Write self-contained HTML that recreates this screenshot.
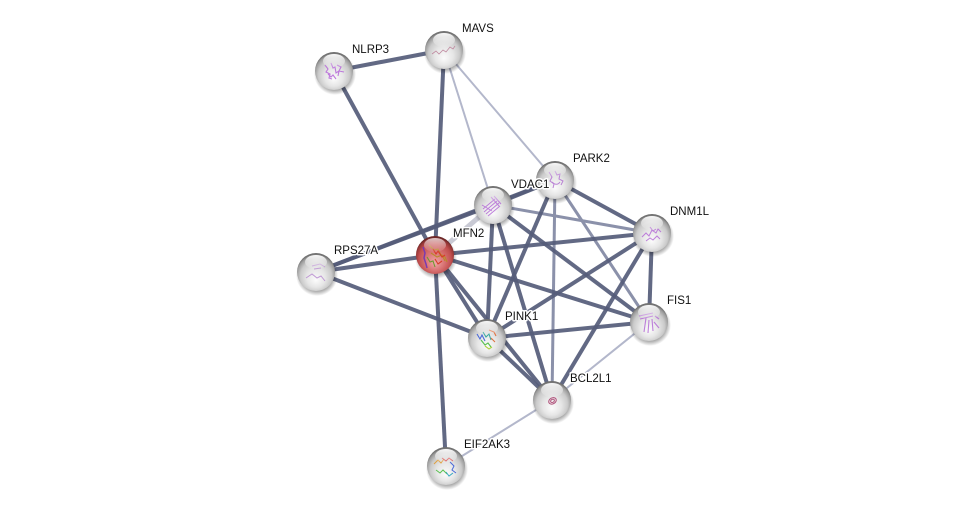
<!DOCTYPE html>
<html>
<head>
<meta charset="utf-8">
<style>
  html,body{margin:0;padding:0;background:#ffffff;}
  svg{display:block;}
  text{font-family:"Liberation Sans",Arial,sans-serif;font-size:11.5px;fill:#111;stroke:#ffffff;stroke-width:3px;paint-order:stroke;stroke-linejoin:round;}
</style>
</head>
<body>
<svg width="975" height="511" viewBox="0 0 975 511" xmlns="http://www.w3.org/2000/svg">
  <defs>
    <radialGradient id="gw" cx="50%" cy="58%" r="55%" fx="50%" fy="72%">
      <stop offset="0" stop-color="#fbfbfb"/>
      <stop offset="0.45" stop-color="#e6e6e6"/>
      <stop offset="0.75" stop-color="#cacaca"/>
      <stop offset="0.92" stop-color="#9d9d9d"/>
      <stop offset="1" stop-color="#707070"/>
    </radialGradient>
    <radialGradient id="gr" cx="50%" cy="58%" r="55%" fx="50%" fy="72%">
      <stop offset="0" stop-color="#eea8a8"/>
      <stop offset="0.45" stop-color="#d97474"/>
      <stop offset="0.78" stop-color="#c24f4f"/>
      <stop offset="0.93" stop-color="#953636"/>
      <stop offset="1" stop-color="#6a2626"/>
    </radialGradient>
    <linearGradient id="gl" x1="0" y1="0" x2="0" y2="1">
      <stop offset="0" stop-color="#ffffff" stop-opacity="0.95"/>
      <stop offset="1" stop-color="#ffffff" stop-opacity="0.05"/>
    </linearGradient>
    <radialGradient id="sh" cx="50%" cy="50%" r="50%">
      <stop offset="0.75" stop-color="#000" stop-opacity="0.35"/>
      <stop offset="1" stop-color="#000" stop-opacity="0"/>
    </radialGradient>
  </defs>

  <!-- edges -->
  <g stroke-linecap="butt" fill="none">
    <g stroke="#b3b7cb" stroke-width="2">
      <line x1="444" y1="50" x2="493" y2="205"/>
      <line x1="444" y1="50" x2="555" y2="180"/>
      <line x1="649" y1="322" x2="552" y2="400"/>
      <line x1="552" y1="400" x2="446" y2="466"/>
    </g>
    <line x1="435" y1="255" x2="493" y2="205" stroke="#c9cad4" stroke-width="5"/>
    <g stroke="#8b91aa" stroke-width="3">
      <line x1="493" y1="205" x2="652" y2="233"/>
      <line x1="555" y1="180" x2="649" y2="322"/>
      <line x1="555" y1="180" x2="552" y2="400"/>
    </g>
    <g stroke="#555c7a" stroke-width="4" stroke-opacity="0.92">
      <line x1="334" y1="71" x2="444" y2="50"/>
      <line x1="334" y1="71" x2="435" y2="255"/>
      <line x1="444" y1="50" x2="435" y2="255"/>
      <line x1="316" y1="272" x2="493" y2="205"/>
      <line x1="316" y1="272" x2="555" y2="180"/>
      <line x1="316" y1="272" x2="435" y2="255"/>
      <line x1="316" y1="272" x2="487" y2="338"/>
      <line x1="435" y1="255" x2="652" y2="233"/>
      <line x1="435" y1="255" x2="649" y2="322"/>
      <line x1="435" y1="255" x2="487" y2="338"/>
      <line x1="435" y1="255" x2="552" y2="400"/>
      <line x1="435" y1="255" x2="446" y2="466"/>
      <line x1="493" y1="205" x2="555" y2="180"/>
      <line x1="493" y1="205" x2="649" y2="322"/>
      <line x1="493" y1="205" x2="487" y2="338"/>
      <line x1="493" y1="205" x2="552" y2="400"/>
      <line x1="555" y1="180" x2="652" y2="233"/>
      <line x1="555" y1="180" x2="487" y2="338"/>
      <line x1="652" y1="233" x2="649" y2="322"/>
      <line x1="652" y1="233" x2="487" y2="338"/>
      <line x1="652" y1="233" x2="552" y2="400"/>
      <line x1="649" y1="322" x2="487" y2="338"/>
      <line x1="487" y1="338" x2="552" y2="400"/>
    </g>
  </g>

  <!-- nodes -->
  <g id="nodes">
    <g transform="translate(334,71)">
      <ellipse cx="1" cy="3" rx="21" ry="21" fill="url(#sh)"/>
      <circle r="19" fill="url(#gw)"/>
      <path d="M-9,-6 l3,4 l-2,3 l4,2 l-1,4 l3,1 M-3,-8 l2,5 l2,-1 l1,6 l3,-2 l-1,5 M3,-6 l4,2 l-2,4 l5,1 M-6,3 l3,3 l2,-2 l3,4" stroke="#b565d8" stroke-width="1.1" fill="none" opacity="0.85"/>
      <ellipse cx="0" cy="-10" rx="11" ry="7" fill="url(#gl)"/>
    </g>
    <g transform="translate(444,50)">
      <ellipse cx="1" cy="3" rx="21" ry="21" fill="url(#sh)"/>
      <circle r="19" fill="url(#gw)"/>
      <path d="M-12,4 l4,-3 l3,3 l4,-4 l3,2 l4,-5 l3,2 l2,-3" stroke="#c08aa0" stroke-width="0.8" fill="none"/>
      <ellipse cx="0" cy="-10" rx="11" ry="7" fill="url(#gl)"/>
    </g>
    <g transform="translate(555,180)">
      <ellipse cx="1" cy="3" rx="21" ry="21" fill="url(#sh)"/>
      <circle r="19" fill="url(#gw)"/>
      <path d="M-6,-8 l3,5 l-2,4 l4,3 l-1,4 M0,-9 l2,4 l3,-1 l-1,5 l4,2 l-2,4 M-3,2 c3,3 6,3 8,0" stroke="#b070d0" stroke-width="1" fill="none" opacity="0.85"/>
      <ellipse cx="0" cy="-10" rx="11" ry="7" fill="url(#gl)"/>
    </g>
    <g transform="translate(493,205)">
      <ellipse cx="1" cy="3" rx="21" ry="21" fill="url(#sh)"/>
      <circle r="19" fill="url(#gw)"/>
      <path d="M-10,4 l12,-10 M-9,7 l13,-11 M-7,9 l13,-11 M-5,11 l12,-10 M-2,-8 l8,9 M1,-9 l7,8 M-11,0 l10,6" stroke="#b46bd6" stroke-width="1" fill="none" opacity="0.85"/>
      <ellipse cx="0" cy="-10" rx="11" ry="7" fill="url(#gl)"/>
    </g>
    <g transform="translate(652,233)">
      <ellipse cx="1" cy="3" rx="21" ry="21" fill="url(#sh)"/>
      <circle r="19" fill="url(#gw)"/>
      <path d="M-10,4 l4,-4 l3,3 l3,-6 l4,3 l2,-4 l3,3 M-6,8 l4,-3 l3,2 l4,-4 l3,3 M-2,-6 l3,4 l3,-2" stroke="#b46bd6" stroke-width="1" fill="none" opacity="0.85"/>
      <ellipse cx="0" cy="-10" rx="11" ry="7" fill="url(#gl)"/>
    </g>
    <g transform="translate(435,255)">
      <ellipse cx="1" cy="3" rx="21" ry="21" fill="url(#sh)"/>
      <circle r="19" fill="url(#gr)"/>
      <path d="M-12,-8 l2,6 l-1,5 l2,6 l1,4" stroke="#7a3ab0" stroke-width="1.5" fill="none"/>
      <path d="M-6,-10 l5,5 l4,-1 l3,6 l4,2 l2,5 M-4,-2 l6,4 l5,-2 l3,6" stroke="#b8892a" stroke-width="1.1" fill="none"/>
      <path d="M-2,-6 l3,5 l2,-3 l4,6 l3,-2 M0,4 l3,5 l4,-3" stroke="#d83a2a" stroke-width="1.1" fill="none"/>
      <path d="M-8,2 l3,5 l3,-1 l2,6" stroke="#6c9a30" stroke-width="1.1" fill="none"/>
      <ellipse cx="0" cy="-10" rx="11" ry="7" fill="url(#gl)" opacity="0.75"/>
    </g>
    <g transform="translate(316,272)">
      <ellipse cx="1" cy="3" rx="21" ry="21" fill="url(#sh)"/>
      <circle r="19" fill="url(#gw)"/>
      <path d="M-4,-6 l8,-2 l5,3 M-2,-3 l7,-1 M-10,6 l6,-4 l5,4 l4,-2 l4,5" stroke="#b78ad0" stroke-width="1" fill="none" opacity="0.85"/>
      <ellipse cx="0" cy="-10" rx="11" ry="7" fill="url(#gl)"/>
    </g>
    <g transform="translate(649,322)">
      <ellipse cx="1" cy="3" rx="21" ry="21" fill="url(#sh)"/>
      <circle r="19" fill="url(#gw)"/>
      <path d="M-10,-6 l14,-3 M-9,-3 l13,-3 M-3,-4 l-2,14 M0,-2 l-1,13 M3,-3 l1,12 M5,0 l5,6 M6,-6 l4,3" stroke="#b46bd6" stroke-width="1.1" fill="none" opacity="0.85"/>
      <ellipse cx="0" cy="-10" rx="11" ry="7" fill="url(#gl)"/>
    </g>
    <g transform="translate(487,338)">
      <ellipse cx="1" cy="3" rx="21" ry="21" fill="url(#sh)"/>
      <circle r="19" fill="url(#gw)"/>
      <path d="M-10,-4 l3,5 l2,-4 l3,6" stroke="#4a6ad8" stroke-width="1.1" fill="none"/>
      <path d="M-4,-6 l3,5 l3,-3 l2,6" stroke="#3aa8a0" stroke-width="1.1" fill="none"/>
      <path d="M-6,2 l4,5 l3,-2 l3,4" stroke="#5ac050" stroke-width="1.1" fill="none"/>
      <path d="M2,-8 l5,2 l2,4 M4,0 l4,4" stroke="#e07040" stroke-width="1.1" fill="none"/>
      <path d="M-2,8 l4,3 l3,-2" stroke="#b0d040" stroke-width="1.1" fill="none"/>
      <ellipse cx="0" cy="-10" rx="11" ry="7" fill="url(#gl)"/>
    </g>
    <g transform="translate(552,400)">
      <ellipse cx="1" cy="3" rx="21" ry="21" fill="url(#sh)"/>
      <circle r="19" fill="url(#gw)"/>
      <ellipse cx="0" cy="1" rx="4" ry="3" transform="rotate(-30)" stroke="#b0507a" stroke-width="1" fill="none"/>
      <ellipse cx="0" cy="1" rx="2" ry="1.5" transform="rotate(-30)" stroke="#b0507a" stroke-width="1" fill="none"/>
      <ellipse cx="0" cy="-10" rx="11" ry="7" fill="url(#gl)"/>
    </g>
    <g transform="translate(446,466)">
      <ellipse cx="1" cy="3" rx="21" ry="21" fill="url(#sh)"/>
      <circle r="19" fill="url(#gw)"/>
      <path d="M-12,-2 l4,-4 l3,3 l3,-4" stroke="#e0a040" stroke-width="1" fill="none"/>
      <path d="M-4,-8 l4,3 l3,-3 l4,3" stroke="#d84a4a" stroke-width="1" fill="none"/>
      <path d="M4,-4 l4,4 l-2,4 l4,3" stroke="#4a6ad8" stroke-width="1" fill="none"/>
      <path d="M-10,4 l4,3 l3,-3 l4,4" stroke="#5ac050" stroke-width="1" fill="none"/>
      <path d="M0,6 l3,4 l4,-3" stroke="#3aa8c0" stroke-width="1" fill="none"/>
      <ellipse cx="0" cy="-10" rx="11" ry="7" fill="url(#gl)"/>
    </g>
  </g>

  <!-- labels -->
  <g>
    <text x="352" y="53">NLRP3</text>
    <text x="462" y="32">MAVS</text>
    <text x="573" y="162">PARK2</text>
    <text x="511" y="188">VDAC1</text>
    <text x="670" y="215">DNM1L</text>
    <text x="453" y="237">MFN2</text>
    <text x="334" y="254">RPS27A</text>
    <text x="667" y="304">FIS1</text>
    <text x="505" y="320">PINK1</text>
    <text x="570" y="382">BCL2L1</text>
    <text x="464" y="448">EIF2AK3</text>
  </g>
</svg>
</body>
</html>
